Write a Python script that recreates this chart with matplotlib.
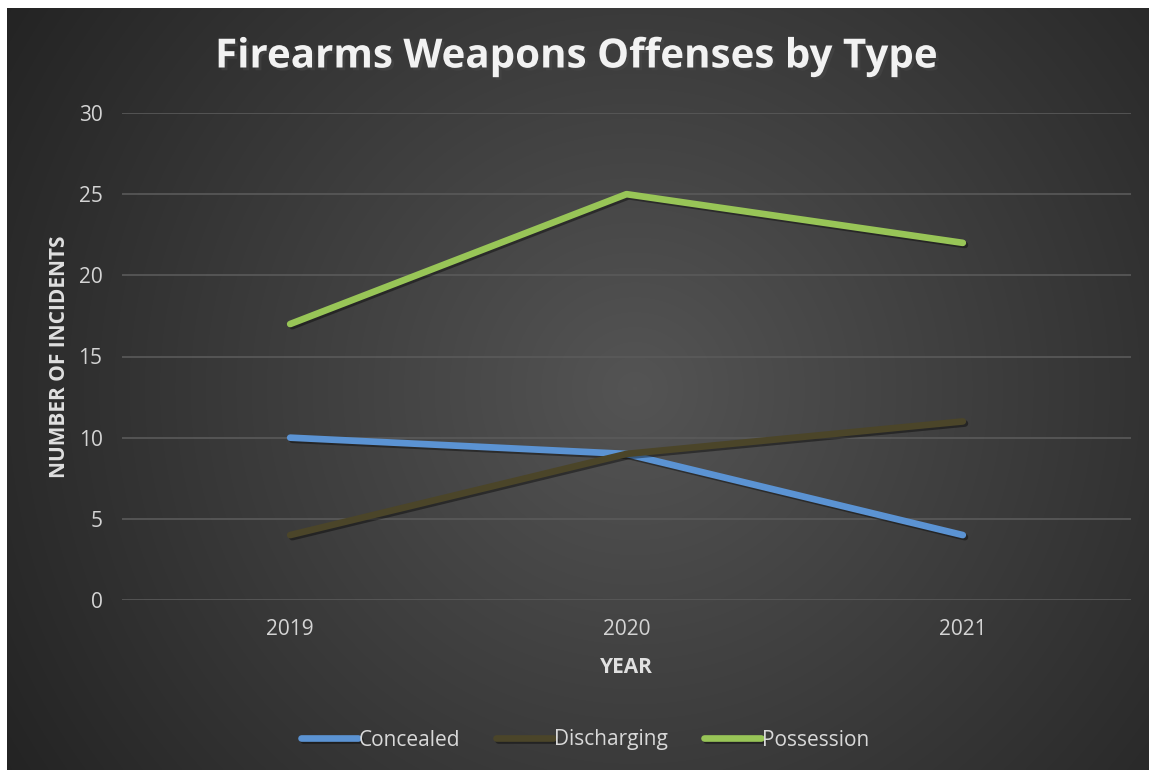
import numpy as np
import matplotlib.pyplot as plt
import matplotlib.patheffects as pe

YEARS = ['2019', '2020', '2021']
CONCEALED = [10, 9, 4]
DISCHARGING = [4, 9, 11]
POSSESSION = [17, 25, 22]

SERIES = [
    ('Concealed', CONCEALED, '#5b93d3'),
    ('Discharging', DISCHARGING, '#4b4529'),
    ('Possession', POSSESSION, '#98c557'),
]

W, H = 1151, 770
fig = plt.figure(figsize=(W / 100, H / 100), dpi=100, facecolor='white')

# radial-ish dark gradient background (leaves a thin white frame top/left)
bg = fig.add_axes([7 / W, 0, (W - 9) / W, (H - 8) / H])
bg.set_axis_off()
yy, xx = np.mgrid[0:1:400j, 0:1:600j]
r = np.sqrt(((xx - 0.55) / 0.75) ** 2 + ((yy - 0.5) / 1.1) ** 2)
shade = np.clip(0.33 - 0.22 * r, 0.14, 0.33)
bg.imshow(np.dstack([shade] * 3), aspect='auto', extent=[0, 1, 0, 1],
          interpolation='bilinear')

ax = fig.add_axes([122 / W, 170 / H, (1131 - 122) / W, (600 - 113) / H])
ax.patch.set_alpha(0)

x = np.arange(len(YEARS))
shadow = [pe.SimpleLineShadow(offset=(1.5, -1.5), shadow_color='black', alpha=0.4), pe.Normal()]
for name, vals, col in SERIES:
    ax.plot(x, vals, color=col, lw=4.8, solid_capstyle='round', label=name,
            path_effects=shadow, zorder=3)

ax.set_xlim(-0.5, 2.5)
ax.set_ylim(0, 30)
ax.set_yticks(range(0, 31, 5))
ax.set_xticks(x, YEARS)
ax.grid(axis='y', color='#5a5a5a', lw=1.2)
ax.set_axisbelow(True)
for s in ax.spines.values():
    s.set_visible(False)
ax.tick_params(length=0, colors='#d4d4d4', labelsize=15)
ax.tick_params(axis='x', pad=14)
ax.tick_params(axis='y', pad=14)

fam = ['Open Sans', 'DejaVu Sans']
for lab in ax.get_xticklabels() + ax.get_yticklabels():
    lab.set_family(fam)

ax.set_ylabel('NUMBER OF INCIDENTS', color='#e0e0e0', fontsize=15,
              fontweight='bold', family=fam, labelpad=6)
ax.set_xlabel('YEAR', color='#e0e0e0', fontsize=15, fontweight='bold',
              family=fam, labelpad=12)

fig.text(0.5, 1 - 57 / H, 'Firearms Weapons Offenses by Type', ha='center',
         va='center', color='#f2f2f2', fontsize=29, fontweight='bold',
         family=fam,
         path_effects=[pe.withSimplePatchShadow(offset=(2, -2), alpha=0.5)])

leg = fig.legend(*ax.get_legend_handles_labels(), loc='center',
                 bbox_to_anchor=(585 / W, 1 - 740 / H), ncol=3, frameon=False,
                 handlelength=2.75, handletextpad=0.05, columnspacing=1.7,
                 prop={'family': fam, 'size': 15})
for t in leg.get_texts():
    t.set_color('#d9d9d9')

fig.savefig('out.png', dpi=100, facecolor=fig.get_facecolor())
